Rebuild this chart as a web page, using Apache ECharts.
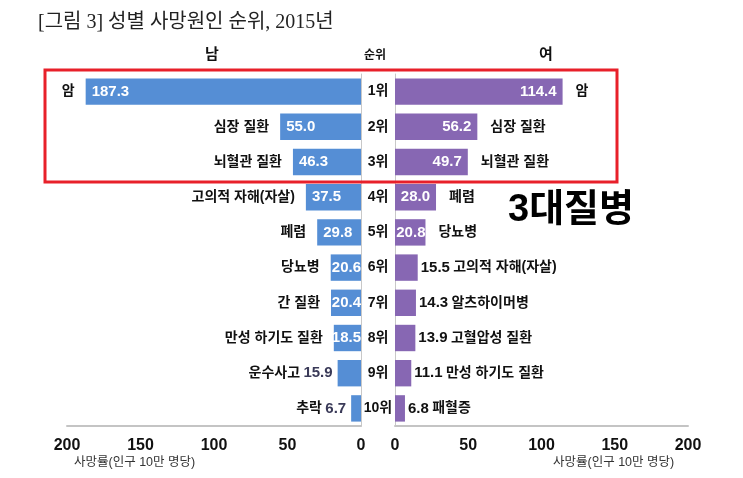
<!DOCTYPE html>
<html>
<head>
<meta charset="utf-8">
<script src="https://cdn.jsdelivr.net/npm/echarts@6/dist/echarts.min.js"></script>
<style>
html, body { margin: 0; padding: 0; background: #fff; }
#chart { width: 743px; height: 478px; }
</style>
</head>
<body>
<div id="chart"></div>
<script>
var ranks = ['1위', '2위', '3위', '4위', '5위', '6위', '7위', '8위', '9위', '10위'];
var maleNames = ['암', '심장 질환', '뇌혈관 질환', '고의적 자해(자살)', '폐렴', '당뇨병', '간 질환', '만성 하기도 질환', '운수사고', '추락'];
var maleValues = [187.3, 55.0, 46.3, 37.5, 29.8, 20.6, 20.4, 18.5, 15.9, 6.7];
var femaleNames = ['암', '심장 질환', '뇌혈관 질환', '폐렴', '당뇨병', '고의적 자해(자살)', '알츠하이머병', '고혈압성 질환', '만성 하기도 질환', '패혈증'];
var femaleValues = [114.4, 56.2, 49.7, 28.0, 20.8, 15.5, 14.3, 13.9, 11.1, 6.8];
var axisTicks = [0, 50, 100, 150, 200];

var FONT = "'Liberation Sans', 'Noto Sans CJK KR', sans-serif";
var BLUE = '#558ed5';
var PURPLE = '#8767b3';

var chart = echarts.init(document.getElementById('chart'));

function xAxisCfg(idx, inverse) {
    return {
        gridIndex: idx,
        type: 'value',
        inverse: inverse,
        min: axisTicks[0],
        max: axisTicks[axisTicks.length - 1],
        interval: 50,
        splitLine: { show: false },
        axisTick: { show: false },
        axisLine: { show: true, lineStyle: { color: '#c4c4c4', width: 2 } },
        axisLabel: { margin: 12, color: '#111', fontSize: 16, fontWeight: 'bold', fontFamily: FONT }
    };
}

// 값 라벨: 큰 막대는 막대 끝쪽, 좁은 막대는 0 쪽에 붙임
var valueLabel = {
    show: true, color: '#fff', fontSize: 15, fontWeight: 'bold', fontFamily: FONT, overflow: 'none',
    formatter: function (p) { return p.value.toFixed(1); }
};

var maleData = maleValues.map(function (v) {
    if (v < 18) return { value: v, label: { show: false } };
    return { value: v, label: v < 25 ? { position: 'insideRight', distance: 0 } : { position: 'insideLeft', distance: 6 } };
});
var femaleData = femaleValues.map(function (v) {
    if (v < 20) return { value: v, label: { show: false } };
    return { value: v, label: { position: 'insideRight', distance: v < 25 ? 0 : 6 } };
});
// 이름 라벨: 값이 막대 밖에 있으면 막대에 바짝 붙임
var maleNameData = maleValues.map(function (v) {
    return { value: v, label: { distance: v < 18 ? 5 : 11 } };
});
var femaleNameData = femaleValues.map(function (v) {
    return { value: v, label: { distance: v < 20 ? 3 : 13 } };
});

var option = {
    backgroundColor: '#fff',
    animation: false,
    title: {
        text: '[그림 3] 성별 사망원인 순위, 2015년',
        left: 33,
        top: 8,
        textStyle: { fontFamily: "'Liberation Serif', 'Noto Sans CJK KR', serif", fontWeight: 'normal', fontSize: 20, color: '#222' }
    },
    grid: [
        { left: 67, width: 294, top: 74, height: 352 },
        { left: 395, width: 293, top: 74, height: 352 }
    ],
    xAxis: [xAxisCfg(0, true), xAxisCfg(1, false)],
    yAxis: [{
        gridIndex: 0,
        type: 'category',
        position: 'right',
        inverse: true,
        data: ranks,
        axisLine: { lineStyle: { color: '#c8c8c8' } },
        axisTick: { length: 3, lineStyle: { color: '#c8c8c8' } },
        axisLabel: { show: false }
    }, {
        gridIndex: 1,
        type: 'category',
        inverse: true,
        data: ranks,
        axisLine: { lineStyle: { color: '#c8c8c8' } },
        axisTick: { length: 3, lineStyle: { color: '#c8c8c8' } },
        axisLabel: { align: 'center', margin: 17, color: '#111', fontSize: 14, fontWeight: 'bold', fontFamily: FONT }
    }],
    series: [{
        name: '남',
        type: 'bar',
        xAxisIndex: 0,
        yAxisIndex: 0,
        data: maleData,
        barCategoryGap: '25%',
        itemStyle: { color: BLUE },
        label: valueLabel
    }, {
        name: '남 이름',
        type: 'bar',
        xAxisIndex: 0,
        yAxisIndex: 0,
        data: maleNameData,
        barGap: '-100%',
        silent: true,
        itemStyle: { color: 'transparent' },
        label: {
            show: true,
            position: 'left',
            fontFamily: FONT,
            formatter: function (p) {
                var n = maleNames[p.dataIndex];
                return p.value >= 18 ? '{n|' + n + '}' : '{n|' + n + '} {v|' + p.value.toFixed(1) + '}';
            },
            rich: {
                n: { color: '#111', fontSize: 14, fontWeight: 'bold', fontFamily: FONT },
                v: { color: '#3a3a58', fontSize: 15, fontWeight: 'bold', fontFamily: FONT }
            }
        },
        z: 3
    }, {
        name: '여',
        type: 'bar',
        xAxisIndex: 1,
        yAxisIndex: 1,
        data: femaleData,
        barCategoryGap: '25%',
        itemStyle: { color: PURPLE },
        label: valueLabel
    }, {
        name: '여 이름',
        type: 'bar',
        xAxisIndex: 1,
        yAxisIndex: 1,
        data: femaleNameData,
        barGap: '-100%',
        silent: true,
        itemStyle: { color: 'transparent' },
        label: {
            show: true,
            position: 'right',
            fontFamily: FONT,
            formatter: function (p) {
                var n = femaleNames[p.dataIndex];
                return p.value >= 20 ? '{n|' + n + '}' : '{v|' + p.value.toFixed(1) + '} {n|' + n + '}';
            },
            rich: {
                n: { color: '#111', fontSize: 14, fontWeight: 'bold', fontFamily: FONT },
                v: { color: '#111', fontSize: 15, fontWeight: 'bold', fontFamily: FONT }
            }
        },
        z: 3
    }],
    graphic: [
        { type: 'text', left: 205, top: 47, style: { text: '남', font: 'bold 15px ' + FONT, fill: '#111' } },
        { type: 'text', left: 364, top: 50, style: { text: '순위', font: 'bold 12px ' + FONT, fill: '#111' } },
        { type: 'text', left: 539, top: 47, style: { text: '여', font: 'bold 15px ' + FONT, fill: '#111' } },
        { type: 'rect', shape: { x: 45, y: 70, width: 572, height: 112 }, style: { fill: 'none', stroke: '#e8202a', lineWidth: 3 }, z: 10 },
        { type: 'text', left: 508, top: 192, style: { text: '3대질병', font: 'bold 38px ' + FONT, fill: '#000' } },
        { type: 'text', left: 74, top: 456, style: { text: '사망률(인구 10만 명당)', font: '12.5px ' + FONT, fill: '#333' } },
        { type: 'text', left: 553, top: 456, style: { text: '사망률(인구 10만 명당)', font: '12.5px ' + FONT, fill: '#333' } }
    ]
};

chart.setOption(option);
</script>
</body>
</html>
